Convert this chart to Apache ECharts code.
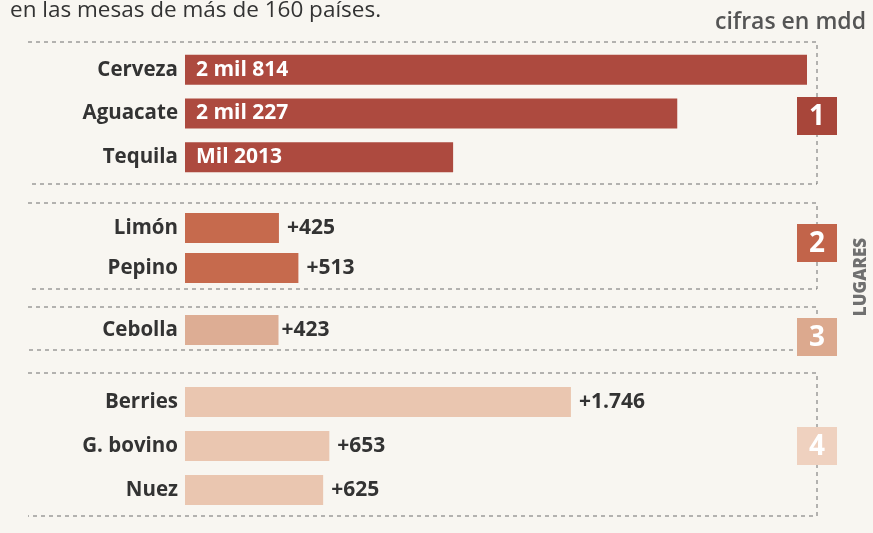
<!DOCTYPE html>
<html><head><meta charset="utf-8">
<script src="https://cdn.jsdelivr.net/npm/echarts@6/dist/echarts.min.js"></script>
<style>html,body{margin:0;padding:0;background:#f8f6f1;}#c{width:873px;height:533px;}</style>
</head><body><div id="c"></div>
<script>
// Data
const groupCategories = [
  ['Cerveza', 'Aguacate', 'Tequila'],
  ['Limón', 'Pepino'],
  ['Cebolla'],
  ['Berries', 'G. bovino', 'Nuez']
];
const groupValues = [
  [2814, 2227, 1213],
  [425, 513],
  [423],
  [1746, 653, 625]
];
const groupValueLabels = [
  ['2 mil 814', '2 mil 227', 'Mil 2013'],
  ['+425', '+513'],
  ['+423'],
  ['+1.746', '+653', '+625']
];
const rankLabels = ['1', '2', '3', '4'];
const titleText = 'en las mesas de más de 160 países.';
const unitText = 'cifras en mdd';
const sideText = 'LUGARES';

// Styles / layout
const barColors = ['#ad4a3f', '#c66a4d', '#ddad94', '#eac6b0'];
const badgeColors = ['#a8463a', '#c2644a', '#dca98e', '#efd1bf'];
const gridBoxes = [[48, 131], [208, 80], [312, 36], [380, 132]];
const frameBoxes = [[42, 184], [203, 289], [307, 350], [373, 516]];
const badgeCenters = [116, 243, 337, 446];
const FONT = 'Open Sans';
const XMAX = 2814;

const chart = echarts.init(document.getElementById('c'));
const grids = [], xAxes = [], yAxes = [], series = [];
groupCategories.forEach((cats, i) => {
  grids.push({ left: 185, right: 66, top: gridBoxes[i][0], height: gridBoxes[i][1] });
  xAxes.push({ type: 'value', gridIndex: i, min: 0, max: XMAX, show: false });
  yAxes.push({
    type: 'category', gridIndex: i, data: cats, inverse: true,
    axisLine: { show: false }, axisTick: { show: false }, splitLine: { show: false },
    axisLabel: { color: '#333', fontSize: 20.5, fontWeight: 'bold', fontFamily: FONT, margin: 7 }
  });
  series.push({
    type: 'bar', xAxisIndex: i, yAxisIndex: i, barWidth: 30,
    data: groupValues[i].map((v, j) => ({
      value: v,
      label: {
        show: true,
        position: i === 0 ? 'insideLeft' : 'right',
        distance: i === 0 ? 11 : (i === 2 ? 3 : 8),
        formatter: groupValueLabels[i][j],
        color: i === 0 ? '#fff' : '#333',
        fontSize: 21, fontWeight: 'bold', fontFamily: FONT
      }
    })),
    itemStyle: { color: barColors[i] },
    animation: false
  });
});

const graphics = [];
const dash = { stroke: '#6f6f6f', lineWidth: 1, lineDash: [4, 4] };
frameBoxes.forEach(([t, b]) => {
  graphics.push({ type: 'polyline', z: 0, silent: true,
    shape: { points: [[28, t], [817, t], [817, b], [28, b]] },
    style: Object.assign({ fill: null }, dash) });
});
badgeCenters.forEach((cy, i) => {
  graphics.push({ type: 'rect', z: 10, shape: { x: 797, y: cy - 19, width: 40, height: 38 },
    style: { fill: badgeColors[i] } });
  graphics.push({ type: 'text', z: 11, x: 817, y: cy + 1,
    style: { text: rankLabels[i], fill: '#fff', font: 'bold 28px "' + FONT + '"', textAlign: 'center', textVerticalAlign: 'middle' } });
});
graphics.push({ type: 'text', x: 10, y: 11,
  style: { text: titleText, fill: '#333', font: '22.5px "' + FONT + '"', textVerticalAlign: 'middle' } });
graphics.push({ type: 'text', x: 866, y: 22,
  style: { text: unitText, fill: '#555', font: '600 23px "' + FONT + '"', textAlign: 'right', textVerticalAlign: 'middle' } });
graphics.push({ type: 'text', x: 861, y: 277, rotation: Math.PI / 2,
  style: { text: sideText, fill: '#707070', font: '800 17px "' + FONT + '"', textAlign: 'center', textVerticalAlign: 'middle' } });

chart.setOption({
  backgroundColor: '#f8f6f1',
  animation: false,
  grid: grids, xAxis: xAxes, yAxis: yAxes, series: series,
  graphic: graphics
});
</script></body></html>
